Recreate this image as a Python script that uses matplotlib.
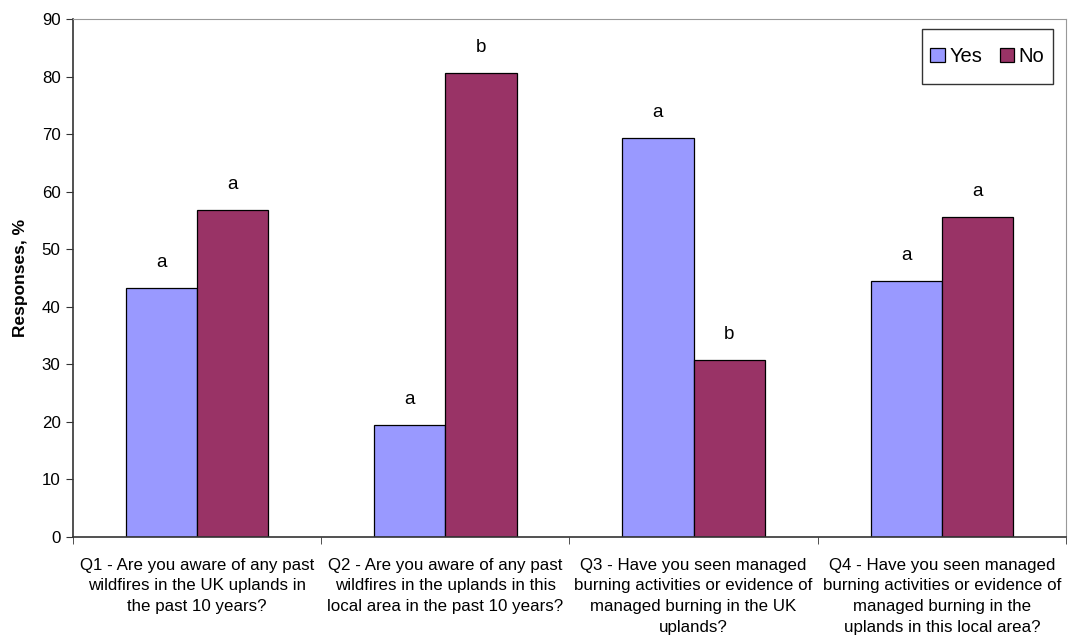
import matplotlib.pyplot as plt
import numpy as np
from matplotlib.patches import Rectangle

plt.rcParams['font.family'] = ['Liberation Sans', 'DejaVu Sans']

questions = [
    "Q1 - Are you aware of any past\nwildfires in the UK uplands in\nthe past 10 years?",
    "Q2 - Are you aware of any past\nwildfires in the uplands in this\nlocal area in the past 10 years?",
    "Q3 - Have you seen managed\nburning activities or evidence of\nmanaged burning in the UK\nuplands?",
    "Q4 - Have you seen managed\nburning activities or evidence of\nmanaged burning in the\nuplands in this local area?",
]
yes = [43.2, 19.4, 69.3, 44.4]
no = [56.8, 80.6, 30.7, 55.6]
yes_letters = ['a', 'a', 'a', 'a']
no_letters = ['a', 'b', 'b', 'a']

fig = plt.figure(figsize=(10.68, 6.35), dpi=100)
ax = fig.add_axes([0.0684, 0.1543, 0.9296, 0.8157])

x = np.arange(len(questions))
w = 0.287
b1 = ax.bar(x - w / 2, yes, w, color='#9999ff', edgecolor='black', linewidth=0.9, label='Yes')
b2 = ax.bar(x + w / 2, no, w, color='#993366', edgecolor='black', linewidth=0.9, label='No')

for bars, letters in [(b1, yes_letters), (b2, no_letters)]:
    for rect, lab in zip(bars, letters):
        ax.text(rect.get_x() + rect.get_width() / 2, rect.get_height() + 3.0, lab,
                ha='center', va='bottom', fontsize=13.5)

ax.set_xlim(-0.5, 3.5)
ax.set_ylim(0, 90)
ax.set_yticks(range(0, 91, 10))
ax.set_xticks(x)
ax.set_xticklabels(questions, fontsize=12.2, linespacing=1.47)
ax.tick_params(axis='x', length=0, pad=15)
ax.set_xticks(np.arange(-0.5, 4, 1), minor=True)
ax.tick_params(axis='x', which='minor', length=5, color='#333333')
ax.tick_params(axis='y', labelsize=12.2, length=5, color='#333333', pad=4)
ax.set_ylabel('Responses, %', fontsize=12.5, fontweight='bold', labelpad=10)

for s in ['top', 'right']:
    ax.spines[s].set_color('#999999')
for s in ['left', 'bottom']:
    ax.spines[s].set_color('#333333')
    ax.spines[s].set_linewidth(1.2)

# legend box (Excel style: more padding above/below than at the sides)
ax.add_patch(Rectangle((0.855, 0.8745), 0.132, 0.1065, transform=ax.transAxes,
                       facecolor='white', edgecolor='#333333', linewidth=1.0, zorder=4))
leg = ax.legend(loc='center', ncol=2, fontsize=14.5, frameon=False,
                handlelength=0.7, handleheight=0.7, handletextpad=0.25, columnspacing=0.85,
                borderpad=0, borderaxespad=0, bbox_to_anchor=(0.921, 0.927))
leg.set_zorder(5)

fig.savefig('out.png', dpi=100)
